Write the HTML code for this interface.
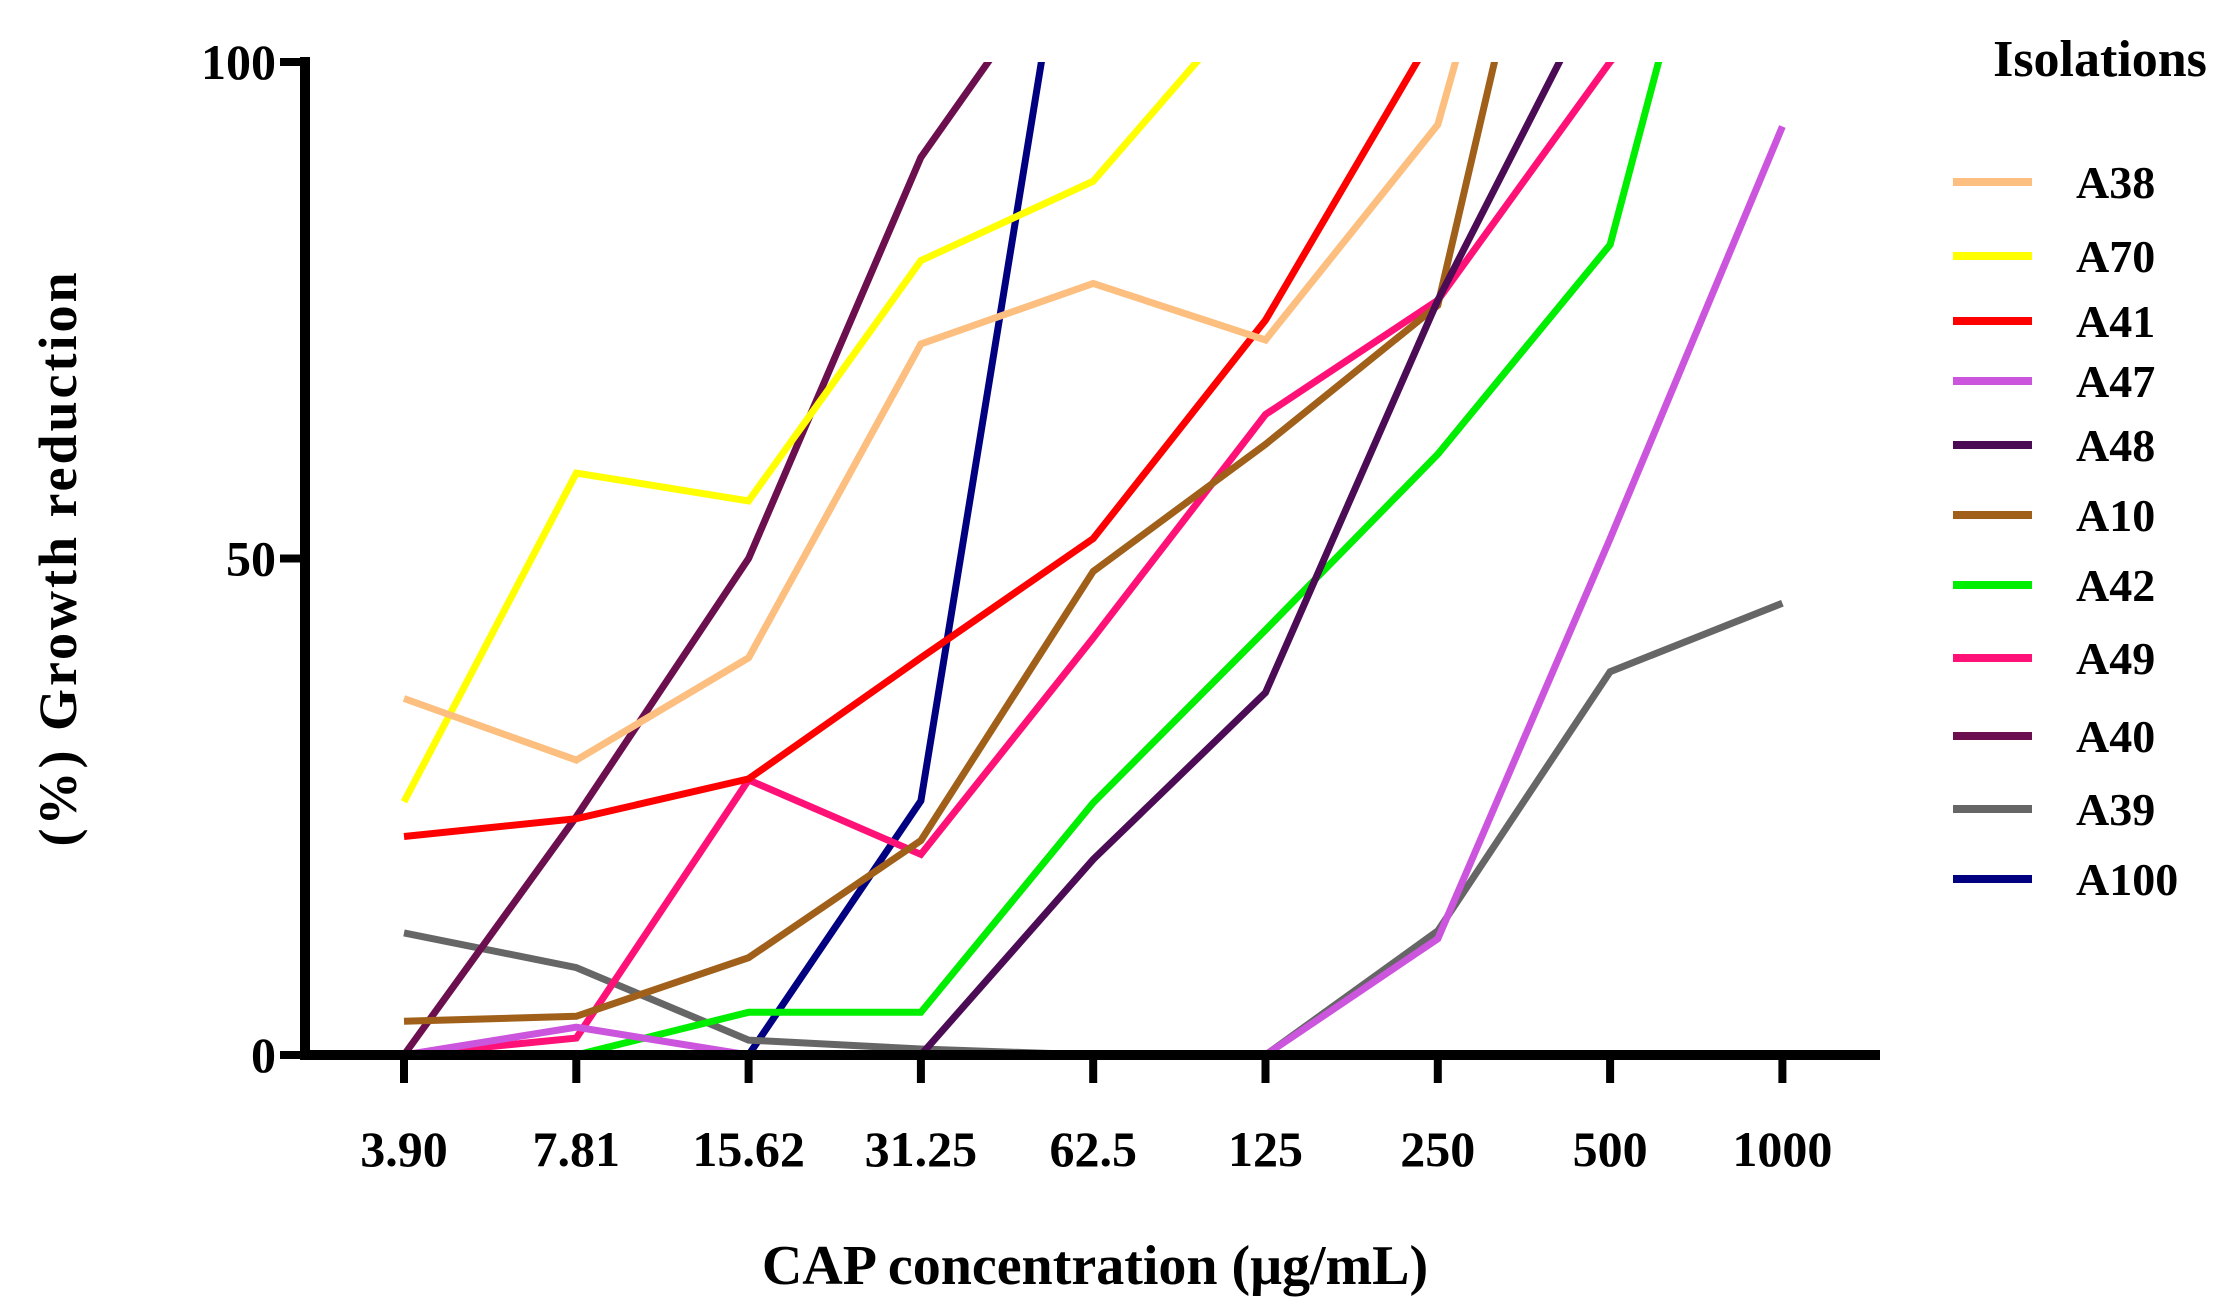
<!DOCTYPE html>
<html><head><meta charset="utf-8"><style>
html,body{margin:0;padding:0;background:#fff;}
svg{display:block;font-family:"Liberation Serif",serif;font-weight:bold;}
</style></head><body>
<svg id="chart" width="2232" height="1311" viewBox="0 0 2232 1311" xmlns="http://www.w3.org/2000/svg">
<defs><clipPath id="plotclip"><rect x="305" y="62" width="1600" height="1000"/></clipPath></defs>
<g id="series" clip-path="url(#plotclip)"></g>
<g id="axes"></g>
<g id="legend"></g>
<text x="1095" y="1284" font-size="56" text-anchor="middle">CAP concentration (μg/mL)</text>
<text transform="translate(76,558) rotate(-90)" font-size="54" text-anchor="middle" letter-spacing="3">(%) Growth reduction</text>
</svg>
<script>
const categories = ["3.90","7.81","15.62","31.25","62.5","125","250","500","1000"];
const yTicks = [0,50,100];
const seriesNames = ["A38","A70","A41","A47","A48","A10","A42","A49","A40","A39","A100"];
const seriesColors = ["#FDBF80","#FFFF00","#FF0000","#CC55DD","#4B0B55","#A0601A","#00EE00","#FF1177","#6B0F4F","#666666","#000080"];
const A38 = [35.9,29.7,40,71.6,77.7,72,93.7,155,160];
const A70 = [25.5,58.6,55.8,80,88,108,120,130,140];
const A41 = [22,23.8,27.8,40,52,74,103.6,110,120];
const A47 = [0,2.8,0,0,0,0,11.7,52,93.5];
const A48 = [0,0,0,0,19.7,36.5,76,110,120];
const A10 = [3.4,3.9,9.8,21.6,48.7,61.5,75.5,150,160];
const A42 = [0,0,4.3,4.3,25.4,42.8,60.5,81.6,147];
const A49 = [0,1.7,27.7,20.2,42,64.5,76,100,120];
const A40 = [0,24,50,90.4,115,130,140,150,160];
const A39 = [12.3,8.8,1.5,0.6,0,0,12.5,38.6,45.5];
const A100 = [null,null,0,25.6,132,140,150,160,170];
const seriesValues = [A38,A70,A41,A47,A48,A10,A42,A49,A40,A39,A100];

const NS="http://www.w3.org/2000/svg";
const x0=404, dx=172.3, yTop=62, yBot=1055, yMax=100;
function xPos(i){return x0+i*dx;}
function yPos(v){return yBot-(v/yMax)*(yBot-yTop);}
function mk(tag,attrs,parent){const e=document.createElementNS(NS,tag);for(const k in attrs)e.setAttribute(k,attrs[k]);parent.appendChild(e);return e;}

const sg=document.getElementById('series');
for(let s=seriesValues.length-1;s>=0;s--){
  const vals=seriesValues[s];
  const pts=[];
  vals.forEach((v,i)=>{if(v!==null)pts.push(xPos(i).toFixed(1)+","+yPos(v).toFixed(1));});
  const p=mk('polyline',{points:pts.join(' '),fill:'none',stroke:seriesColors[s],'stroke-width':7,'stroke-linejoin':'miter'},sg);
  
  
}

const ax=document.getElementById('axes');
const yl=mk('line',{x1:305,y1:57,x2:305,y2:1060,stroke:'#000','stroke-width':10},ax);


const xl=mk('line',{x1:300,y1:1055,x2:1880,y2:1055,stroke:'#000','stroke-width':10},ax);


yTicks.forEach(t=>{
  const tk=mk('line',{x1:280,y1:yPos(t),x2:305,y2:yPos(t),stroke:'#000','stroke-width':8},ax);
  
  
  const tx=mk('text',{x:276,y:yPos(t)+17,'font-size':50,'text-anchor':'end'},ax);
  tx.textContent=t;
  
  
});
categories.forEach((c,i)=>{
  const tk=mk('line',{x1:xPos(i),y1:1055,x2:xPos(i),y2:1083,stroke:'#000','stroke-width':8},ax);
  
  
  const tx=mk('text',{x:xPos(i),y:1166,'font-size':50,'text-anchor':'middle'},ax);
  tx.textContent=c;
  
  
});

const lg=document.getElementById('legend');
const lt=mk('text',{x:2100,y:76,'font-size':52,'text-anchor':'middle'},lg);
lt.textContent='Isolations';


const legY=[182,256,321,381,445,515,585,658,736,809,879];
seriesNames.forEach((n,s)=>{
  const g=mk('g',{},lg);
  
  
  mk('line',{x1:1953,y1:legY[s],x2:2032,y2:legY[s],stroke:seriesColors[s],'stroke-width':8},g);
  const t=mk('text',{x:2076,y:legY[s]+16,'font-size':46},g);
  t.textContent=n;
});
</script>
</body></html>
